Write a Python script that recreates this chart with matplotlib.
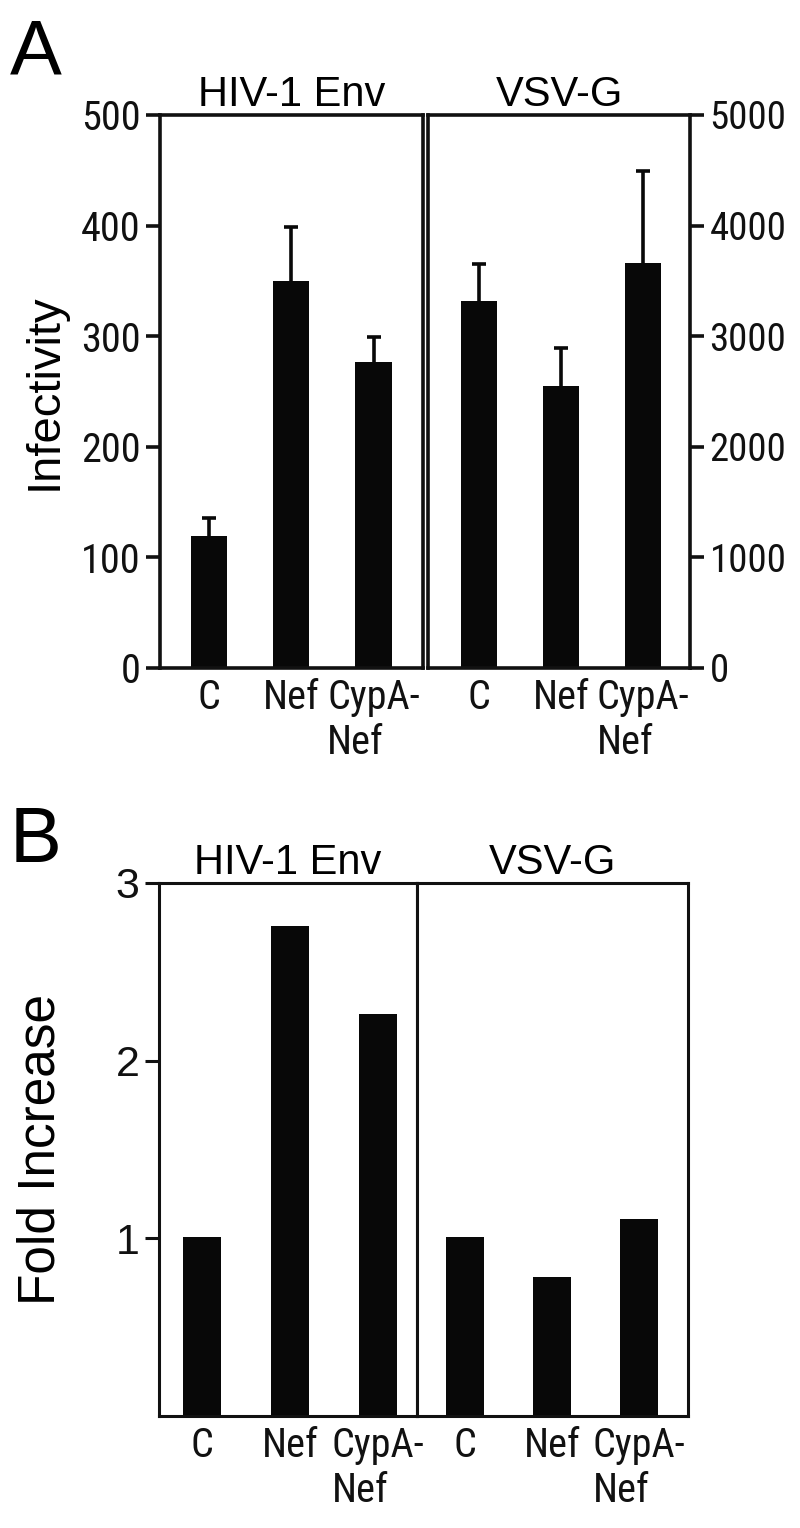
import matplotlib
matplotlib.use("Agg")
import matplotlib.pyplot as plt
import numpy as np

# data
labels = ["C", "Nef", "CypA-\nNef"]
hiv_inf = [119, 350, 277]
hiv_err = [17, 49, 22]
vsv_inf = [3320, 2550, 3665]
vsv_err = [330, 340, 830]
hiv_fold = [1.01, 2.76, 2.26]
vsv_fold = [1.01, 0.78, 1.11]

yt_hiv = [0, 100, 200, 300, 400, 500]
yt_vsv = [0, 1000, 2000, 3000, 4000, 5000]
yt_fold = [1, 2, 3]

reg = ["Liberation Sans", "DejaVu Sans"]
narrow = ["Roboto Condensed", "Archivo Narrow", "DejaVu Sans"]
plt.rcParams['font.family'] = reg

W, H = 800, 1528
fig = plt.figure(figsize=(W / 100, H / 100), dpi=100)


def box(x0, x1, ytop, ybot):
    return [x0 / W, 1 - ybot / H, (x1 - x0) / W, (ybot - ytop) / H]


def style(ax, lw):
    for s in ax.spines.values():
        s.set_linewidth(lw)
        s.set_color("#111111")
    ax.tick_params(axis="x", length=0, pad=7, labelsize=29)
    ax.tick_params(axis="y", length=10, width=lw, pad=4, labelsize=29, colors="#111111")
    for t in ax.get_xticklabels() + ax.get_yticklabels():
        t.set_family(narrow)
        t.set_color("#111111")
    for t in ax.get_xticklabels():
        t.set_multialignment("left")


def err_up(ax, xs, vals, errs):
    tops = np.array(vals) + np.array(errs)
    ax.vlines(xs, vals, tops, color="#080808", lw=2.6)
    ax.hlines(tops, xs - 0.085, xs + 0.085, color="#080808", lw=2.6)


x = np.arange(3)

# ---- panel A
a1 = fig.add_axes(box(160, 423, 115, 668))
a1.bar(x, hiv_inf, 0.44, color="#080808")
err_up(a1, x, hiv_inf, hiv_err)
a1.set_xlim(-0.59, 2.6)
a1.set_ylim(0, 500)
a1.set_yticks(yt_hiv)
a1.set_xticks(x)
a1.set_xticklabels(labels, linespacing=1.2, va="top")
a1.set_ylabel("Infectivity", fontsize=34, labelpad=10)
a1.set_title("HIV-1 Env", fontsize=30, pad=6)
style(a1, 2.6)

a2 = fig.add_axes(box(428, 690, 115, 668))
a2.bar(x, vsv_inf, 0.44, color="#080808")
err_up(a2, x, vsv_inf, vsv_err)
a2.set_xlim(-0.62, 2.57)
a2.set_ylim(0, 5000)
a2.set_yticks(yt_vsv)
a2.yaxis.tick_right()
a2.set_xticks(x)
a2.set_xticklabels(labels, linespacing=1.2, va="top")
a2.set_title("VSV-G", fontsize=30, pad=6)
style(a2, 2.6)
for t in a2.get_yticklabels():
    t.set_fontsize(28)

fig.text(10 / W, 1 - 75 / H, "A", fontsize=56, ha="left", va="baseline")

# ---- panel B
b1 = fig.add_axes(box(159, 417, 883, 1416))
b1.bar(x, hiv_fold, 0.43, color="#080808")
b1.set_xlim(-0.49, 2.44)
b1.set_ylim(0, 3)
b1.set_yticks(yt_fold)
b1.set_xticks(x)
b1.set_xticklabels(labels, linespacing=1.2, va="top")
b1.set_ylabel("Fold Increase", fontsize=37, labelpad=36)
b1.set_title("HIV-1 Env", fontsize=30, pad=6)
style(b1, 2.2)
for t in b1.get_yticklabels():
    t.set_family(reg)
    t.set_fontsize(31)

b2 = fig.add_axes(box(417, 688, 883, 1416))
b2.bar(x, vsv_fold, 0.44, color="#080808")
b2.set_xlim(-0.55, 2.56)
b2.set_ylim(0, 3)
b2.set_yticks([])
b2.set_xticks(x)
b2.set_xticklabels(labels, linespacing=1.2, va="top")
b2.set_title("VSV-G", fontsize=30, pad=6)
style(b2, 2.2)

fig.text(10 / W, 1 - 862 / H, "B", fontsize=56, ha="left", va="baseline")

fig.savefig("out.png", dpi=100)
